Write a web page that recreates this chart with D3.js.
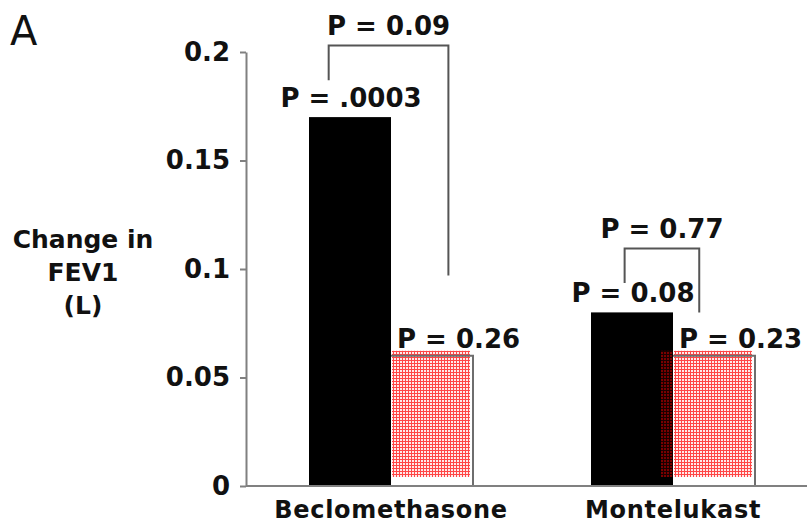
<!DOCTYPE html>
<html>
<head>
<meta charset="utf-8">
<script src="https://cdn.jsdelivr.net/npm/d3@7"></script>
<style>
  body { margin: 0; background: #fff; }
  text { font-family: "DejaVu Sans", Verdana, sans-serif; fill: #111; }
</style>
</head>
<body>
<svg id="chart"></svg>
<script>
// data
const categories = ["Beclomethasone", "Montelukast"]
const series = ["Nonsmokers", "Smokers"]
const nonsmokers = [0.17, 0.08]
const smokers = [0.06, 0.06]
const pLabels = [["P = .0003", "P = 0.26"], ["P = 0.08", "P = 0.23"]]
const yTicks = [0, 0.05, 0.1, 0.15, 0.2]
const yTickLabels = ["0", "0.05", "0.1", "0.15", "0.2"]
// between-group comparisons: label, bracket top, left leg end, right leg end
const compLabels = ["P = 0.09", "P = 0.77"]
const compTop = [0.203, 0.1095]
const compLeft = [0.187, 0.0935]
const compRight = [0.097, 0.08]

const W = 807, H = 524

const svg = d3.select("#chart")
    .attr("width", W)
    .attr("height", H)

const y = d3.scaleLinear()
    .domain([0, 0.2])
    .range([486, 52])

const x = d3.scaleBand()
    .domain(categories)
    .range([250, 814])

const x1 = d3.scaleBand()
    .domain(series)
    .range([-82, 82])

const cx = (c) => x(c) + x.bandwidth() / 2

// patterns for the red bars
const defs = svg.append("defs")
function grid(id, bg, fg) {
    const p = defs.append("pattern")
        .attr("id", id)
        .attr("patternUnits", "userSpaceOnUse")
        .attr("width", 3)
        .attr("height", 3)
    p.append("rect").attr("width", 3).attr("height", 3).attr("fill", bg)
    p.append("path")
        .attr("d", "M0,0.5H3M0.5,0V3")
        .attr("stroke", fg)
        .attr("stroke-width", 1)
}
grid("redgrid", "#ffeaea", "#ff4646")
grid("darkgrid", "#7a0000", "#1a0000")

// "A"
svg.append("text")
    .attr("x", 10)
    .attr("y", 45)
    .style("font-size", "40px")
    .text("A")

// y axis
const yAxis = svg.append("g")
    .attr("transform", "translate(246,0)")
    .call(d3.axisLeft(y)
        .tickValues(yTicks)
        .tickFormat((d, i) => yTickLabels[i])
        .tickSize(6)
        .tickSizeOuter(0)
        .tickPadding(10))
yAxis.selectAll("path, line").attr("stroke", "#808080").attr("stroke-width", 2)
yAxis.selectAll("text")
    .style("font-size", "26px")
    .style("font-weight", "bold")
    .attr("fill", "#111")

// y label
svg.append("text")
    .attr("text-anchor", "middle")
    .style("font-size", "25px")
    .style("font-weight", "bold")
    .selectAll("tspan")
    .data(["Change in", "FEV1", "(L)"])
    .enter()
    .append("tspan")
        .attr("x", 83)
        .attr("y", (d, i) => 248 + i * 33)
        .text(d => d)

// red bars (pattern + outline), then black bars
const rows = categories.map((c, i) => ({cat: c, vals: [nonsmokers[i], smokers[i]], labels: pLabels[i]}))

rows.forEach(function (r, i) {
    const bx = cx(r.cat) + x1(series[1])
    const by = y(r.vals[1])
    const bw = x1.bandwidth()
    svg.append("rect")
        .attr("x", bx + 1)
        .attr("y", by - 5)
        .attr("width", bw - 4)
        .attr("height", y(0) - by - 4)
        .attr("fill", "url(#redgrid)")
    svg.append("path")
        .attr("d", `M${bx},${by}H${bx + bw}V${y(0)}`)
        .attr("fill", "none")
        .attr("stroke", "#6e6e6e")
        .attr("stroke-width", 2)
    svg.append("rect")
        .attr("x", cx(r.cat) + x1(series[0]))
        .attr("y", y(r.vals[0]))
        .attr("width", x1.bandwidth())
        .attr("height", y(0) - y(r.vals[0]))
        .attr("fill", "#000")
    // second group's hatch spills over the black bar
    if (i == 1) {
        svg.append("rect")
            .attr("x", bx - 12)
            .attr("y", by - 5)
            .attr("width", 12)
            .attr("height", y(0) - by - 4)
            .attr("fill", "url(#darkgrid)")
    }
})

// x axis
svg.append("line")
    .attr("x1", 246)
    .attr("x2", W)
    .attr("y1", y(0))
    .attr("y2", y(0))
    .attr("stroke", "#808080")
    .attr("stroke-width", 2)

const xAxis = svg.append("g")
    .attr("transform", `translate(0,${y(0)})`)
    .call(d3.axisBottom(x).tickSize(0).tickPadding(15))
xAxis.select(".domain").remove()
xAxis.selectAll("text")
    .style("font-size", "24px")
    .style("font-weight", "bold")
    .style("letter-spacing", "0.7px")
    .attr("fill", "#111")

// P labels over bars
rows.forEach(function (r) {
    svg.append("text")
        .attr("x", cx(r.cat) + x1(series[0]) + x1.bandwidth() / 2 + 1)
        .attr("y", y(r.vals[0]) - 10)
        .attr("text-anchor", "middle")
        .style("font-size", "26px")
        .style("font-weight", "bold")
        .text(r.labels[0])
    svg.append("text")
        .attr("x", cx(r.cat) + x1(series[1]) + 6)
        .attr("y", y(r.vals[1]) - 8)
        .attr("text-anchor", "start")
        .style("font-size", "26px")
        .style("font-weight", "bold")
        .text(r.labels[1])
})

// comparison brackets
const legs = [[0.24, 0.7], [0.41, 0.32]]
categories.forEach(function (c, i) {
    const xl = cx(c) + x1(series[0]) + legs[i][0] * x1.bandwidth()
    const xr = cx(c) + x1(series[1]) + legs[i][1] * x1.bandwidth()
    svg.append("path")
        .attr("d", `M${xl},${y(compLeft[i])}V${y(compTop[i])}H${xr}V${y(compRight[i])}`)
        .attr("fill", "none")
        .attr("stroke", "#555")
        .attr("stroke-width", 2)
    svg.append("text")
        .attr("x", (xl + xr) / 2)
        .attr("y", y(compTop[i]) - 10)
        .attr("text-anchor", "middle")
        .style("font-size", "26px")
        .style("font-weight", "bold")
        .text(compLabels[i])
})
</script>
</body>
</html>
